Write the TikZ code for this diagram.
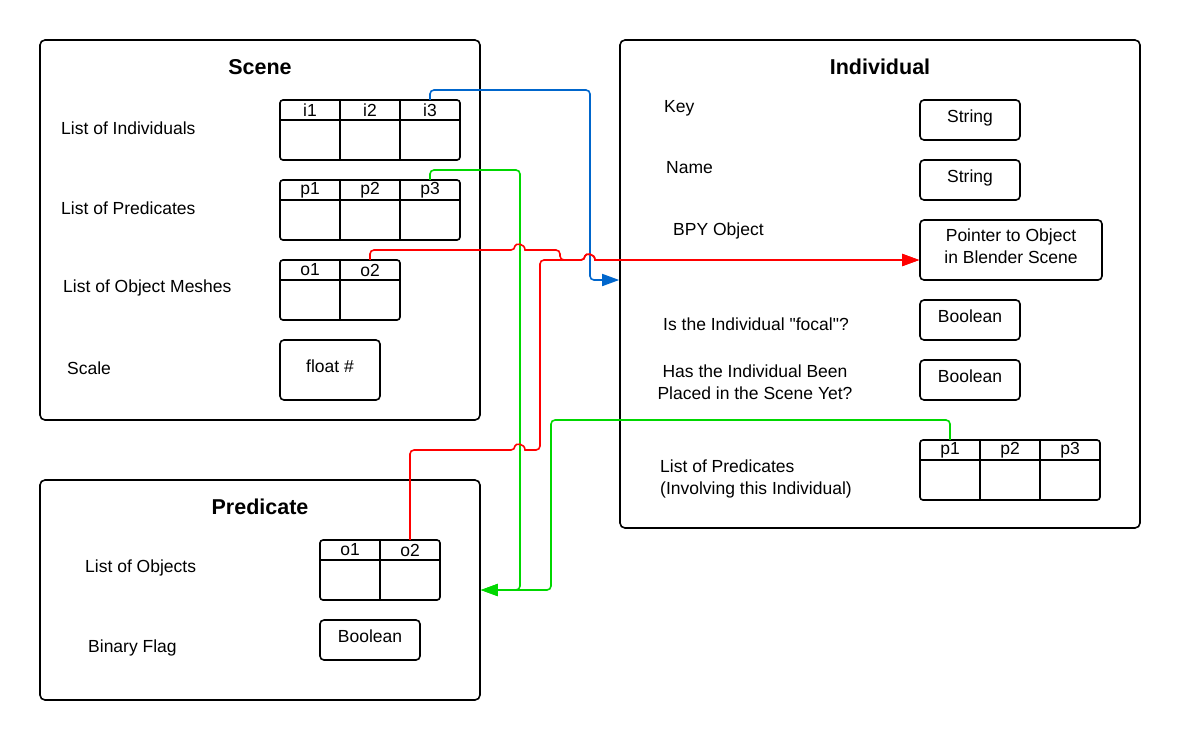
\documentclass[tikz,border=0pt]{standalone}
\usepackage{fontspec}
\setmainfont{Liberation Sans}
\usetikzlibrary{arrows.meta}

\definecolor{linkblue}{RGB}{0,102,204}
\definecolor{linkgreen}{RGB}{0,215,0}
\definecolor{linkred}{RGB}{255,0,0}

\tikzset{
    classbox/.style={draw, line width=1.6pt, rounded corners=5, inner sep=0},
    classtitle/.style={font=\fontsize{21.5}{26}\selectfont\bfseries},
    valbox/.style={draw, line width=1.6pt, rounded corners=4, minimum width=100, minimum height=40, inner sep=0, text depth=8pt, align=center},
    fieldlbl/.style={anchor=west, inner sep=0},
    slotlbl/.style={minimum width=60, minimum height=20, inner sep=0},
    link/.style={line width=1.6pt, rounded corners=4, -{Triangle[length=17pt,width=12pt]}},
}

% header row with labels, then an empty row below
\newcommand{\slotlist}[5]{%
    \draw[line width=1.6pt, rounded corners=3] (#2,#3) rectangle ++({60*#4},60);
    \draw[line width=1.6pt] (#2,{#3+20}) -- ++({60*#4},0);
    \foreach \lbl [count=\k] in {#5} {
        \node[slotlbl] (#1\lbl) at ({#2+60*\k-30},{#3+10}) {\lbl};
        \ifnum\k>1 \draw[line width=1.6pt] ({#2+60*\k-60},#3) -- ++(0,60); \fi
    }
}

\begin{document}
\begin{tikzpicture}[x=1pt, y=-1pt, font=\fontsize{17.5}{22}\selectfont]
    \useasboundingbox (0,0) rectangle (1180,740);

    % Scene
    \node[classbox, minimum width=440, minimum height=380] (scene) at (260,230) {};
    \node[classtitle] (scenett) at (260,67) {Scene};
    \node[fieldlbl] (lind) at (61,128) {List of Individuals};
    \node[fieldlbl] (lpred) at (61,208) {List of Predicates};
    \node[fieldlbl] (lmesh) at (63,288) {List of Object Meshes};
    \node[fieldlbl] (lscale) at (67,368) {Scale};
    \slotlist{s}{280}{100}{3}{i1,i2,i3}
    \slotlist{s}{280}{180}{3}{p1,p2,p3}
    \slotlist{s}{280}{260}{2}{o1,o2}
    \node[valbox, minimum height=60] (scaleval) at (330,370) {float \#};

    % Individual
    \node[classbox, minimum width=520, minimum height=488] (individual) at (880,284) {};
    \node[classtitle] (indtt) at (880,67) {Individual};
    \node[fieldlbl] (lkey) at (664,108) {Key};
    \node[fieldlbl] (lname) at (666,168) {Name};
    \node[fieldlbl] (lbpy) at (673,231) {BPY Object};
    \node[fieldlbl] (lfocal) at (663,324) {Is the Individual \textquotedbl focal\textquotedbl ?};
    \node[align=center, inner sep=0] (lplaced) at (755,382) {Has the Individual Been\\Placed in the Scene Yet?};
    \node[fieldlbl, align=left] (lipred) at (660,479) {List of Predicates\\(Involving this Individual)};
    \node[valbox] (keyval) at (970,120) {String};
    \node[valbox] (nameval) at (970,180) {String};
    \node[valbox, minimum width=182, minimum height=60] (ptr) at (1011,250) {Pointer to Object\\in Blender Scene};
    \node[valbox] (focalval) at (970,320) {Boolean};
    \node[valbox] (placedval) at (970,380) {Boolean};
    \slotlist{i}{920}{440}{3}{p1,p2,p3}

    % Predicate
    \node[classbox, minimum width=440, minimum height=220] (predicate) at (260,590) {};
    \node[classtitle] (predtt) at (260,507) {Predicate};
    \node[fieldlbl] (lobj) at (85,568) {List of Objects};
    \node[fieldlbl] (lflag) at (88,648) {Binary Flag};
    \slotlist{p}{320}{540}{2}{o1,o2}
    \node[valbox] (flagval) at (370,640) {Boolean};

    % links
    \draw[link, linkblue] (si3.north) |- (590,90) -- (590,280) -- ([yshift=4pt]individual.west);
    \draw[link, linkgreen] (sp3.north) |- (520,170) -- (520,590) -- (predicate.east);
    \draw[link, linkgreen] (ip1.north) |- (551,420) -- (551,590) -- (predicate.east);
    \draw[link, linkred] (so2.north) |- (515,250) [sharp corners]
        .. controls (515,243) and (525,243) .. (525,250) [rounded corners=4]
        -- (560,250) -- (560,260) -- (585,260) [sharp corners]
        .. controls (585,253) and (595,253) .. (595,260) -- ([yshift=-10pt]ptr.west);
    \draw[link, linkred] (po2.north) |- (515,450) [sharp corners]
        .. controls (515,443) and (525,443) .. (525,450) [rounded corners=4]
        -- (540,450) -- (540,260) -- (585,260) [sharp corners]
        .. controls (585,253) and (595,253) .. (595,260) -- ([yshift=-10pt]ptr.west);
\end{tikzpicture}
\end{document}
